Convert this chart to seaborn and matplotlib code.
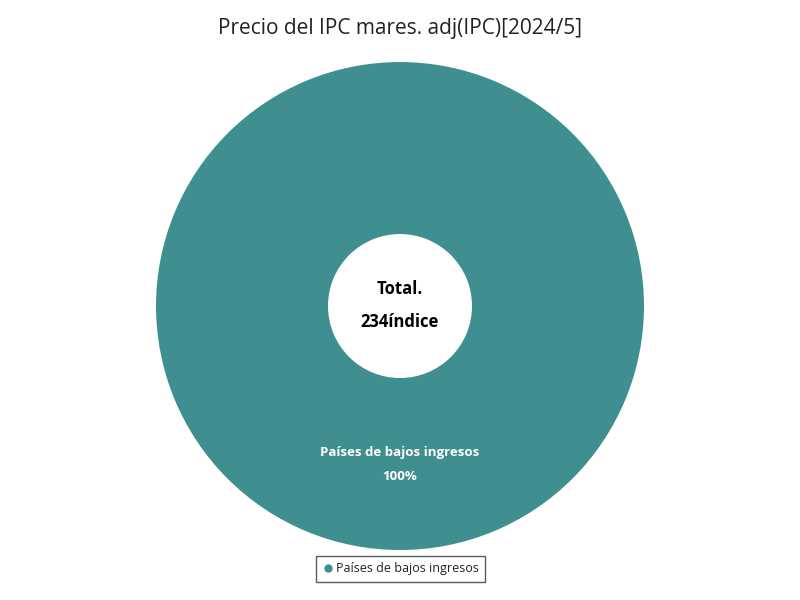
import matplotlib
matplotlib.use("Agg")
import matplotlib.pyplot as plt
import seaborn as sns
from matplotlib.lines import Line2D

title = "Precio del IPC mares. adj(IPC)[2024/5]"
categories = ["Países de bajos ingresos"]
values = [234]
unit = "índice"
colors = ["#3F8F91"]

sns.set_theme(style="white")
plt.rcParams['font.family'] = ['Open Sans', 'DejaVu Sans']

fig = plt.figure(figsize=(8, 6), dpi=100)
fig.patch.set_facecolor("white")
ax = fig.add_axes([0.195, 0.0833, 0.61, 0.8133])

inner = 72 / 244
wedges, _ = ax.pie(values, colors=colors, radius=1, startangle=90, counterclock=False,
                   wedgeprops=dict(width=1 - inner, edgecolor="none"))
ax.set_xlim(-1, 1)
ax.set_ylim(-1, 1)
ax.set_aspect("equal")
ax.axis("off")

total = sum(values)
for cat, v in zip(categories, values):
    pct = v / total * 100
    ax.text(0, -0.60, cat, ha="center", va="center", color="white", fontsize=9.5, fontweight="bold")
    ax.text(0, -0.70, f"{pct:.0f}%", ha="center", va="center", color="white", fontsize=9.5, fontweight="bold")

ax.text(0, 0.068, "Total.", ha="center", va="center", fontsize=12, fontweight="bold", color="black")
ax.text(0, -0.064, f"{total}{unit}", ha="center", va="center", fontsize=12, fontweight="bold", color="black")

fig.text(0.5, 0.953, title, ha="center", va="center", fontsize=15, color="#222222")

handles = [Line2D([0], [0], marker="o", color="w", markerfacecolor=c, markersize=7, label=cat)
           for c, cat in zip(colors, categories)]
leg = fig.legend(handles=handles, loc="center", bbox_to_anchor=(0.5, 0.052), frameon=True,
                 fontsize=9, handletextpad=0.1, handlelength=1.0, borderpad=0.5,
                 borderaxespad=0.0, fancybox=False, labelcolor="#222222")
leg.get_frame().set_edgecolor("#333333")
leg.get_frame().set_linewidth(1.0)

fig.savefig("out.png", dpi=100)
